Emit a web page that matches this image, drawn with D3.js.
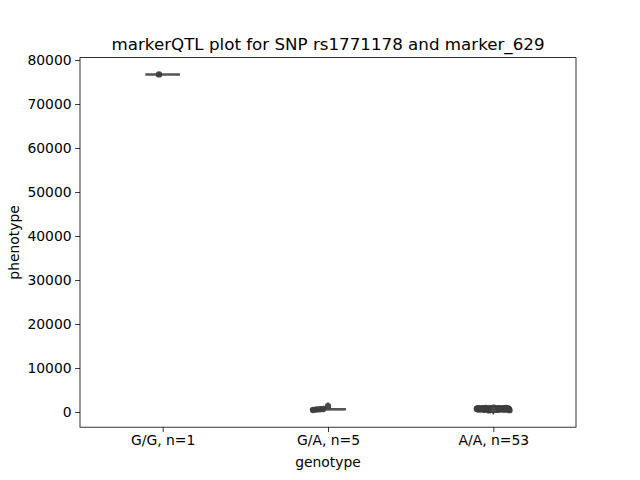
<!DOCTYPE html>
<html><head><meta charset="utf-8">
<script src="https://cdn.jsdelivr.net/npm/d3@7/dist/d3.min.js"></script>
<style>body{margin:0;background:#fff}svg{display:block}text{font-family:"DejaVu Sans",sans-serif}</style>
</head><body><svg id="c" width="640" height="480"></svg>
<script>
const categories = ["G/G, n=1", "G/A, n=5", "A/A, n=53"];
const ggValues = [76727];
const gaValues = [470, 560, 610, 680, 1300];
const aaValues = [363, 420, 480, 510, 530, 550, 560, 575, 590, 600, 605, 615, 620, 630, 640, 645, 650, 655, 660, 665, 670, 675, 680, 685, 690, 695, 700, 705, 710, 715, 720, 725, 730, 735, 740, 745, 750, 760, 770, 780, 790, 800, 810, 820, 830, 840, 850, 860, 870, 880, 900, 920, 950];
const yTicks = [0, 10000, 20000, 30000, 40000, 50000, 60000, 70000, 80000];
const title = "markerQTL plot for SNP rs1771178 and marker_629";
const xLabel = "genotype", yLabel = "phenotype";

const groups = [ggValues, gaValues, aaValues];
const svg = d3.select("#c");
const L = 80, R = 576, T = 57.6, B = 427.2;
const x = d3.scaleLinear().domain([-0.5, 2.5]).range([L, R]);
const y = d3.scaleLinear().domain([-3455, 80545]).range([B, T]);

const g = svg.append("g");
const yAxis = d3.axisLeft(y).tickValues(yTicks).tickSize(4.9).tickPadding(3.5).tickFormat(d3.format("d"));
const ya = svg.append("g").attr("transform", `translate(${L},0)`).call(yAxis);
const xAxis = d3.axisBottom(x).tickValues([0,1,2]).tickSize(4.9).tickPadding(3.5).tickFormat(i => categories[i]);
const xa = svg.append("g").attr("transform", `translate(0,${B})`).call(xAxis);
[ya, xa].forEach(a => {
  a.select(".domain").remove();
  a.selectAll("line").attr("stroke", "#000").attr("stroke-width", 0.8);
  a.selectAll("text").attr("font-size", 13.9).attr("fill", "#000");
});

// deterministic jitter (in category units)
function jitter(i, k, n) {
  if (n === 1) return -0.022;
  if (i === 1) return k === n - 1 ? 0 : -0.09 + 0.02 * k;
  return (((k * 0.618034 + 0.37) % 1) * 2 - 1) * 0.1;
}

const boxW = 0.21;
const boxColor = "#555555";
groups.forEach((vals, i) => {
  const s = vals.slice().sort(d3.ascending);
  const q1 = d3.quantile(s, 0.25), q2 = d3.quantile(s, 0.5), q3 = d3.quantile(s, 0.75);
  const iqr = q3 - q1;
  const lo = d3.min(s.filter(v => v >= q1 - 1.5 * iqr));
  const hi = d3.max(s.filter(v => v <= q3 + 1.5 * iqr));
  const x0 = x(i - boxW / 2), x1 = x(i + boxW / 2);
  g.append("line").attr("x1", x(i)).attr("x2", x(i)).attr("y1", y(lo)).attr("y2", y(q1)).attr("stroke", boxColor).attr("stroke-width", 1.5);
  g.append("line").attr("x1", x(i)).attr("x2", x(i)).attr("y1", y(q3)).attr("y2", y(hi)).attr("stroke", boxColor).attr("stroke-width", 1.5);
  g.append("rect").attr("x", x0).attr("width", x1 - x0).attr("y", y(q3)).attr("height", Math.max(0, y(q1) - y(q3)))
    .attr("fill", "#808080").attr("stroke", boxColor).attr("stroke-width", 1.5);
  g.append("line").attr("x1", x0).attr("x2", x1).attr("y1", y(q2)).attr("y2", y(q2)).attr("stroke", boxColor).attr("stroke-width", 2.5);
  vals.forEach((v, k) => {
    g.append("circle").attr("cx", x(i + jitter(i, k, vals.length))).attr("cy", y(v)).attr("r", 3.2).attr("fill", "#3d3d3d").attr("opacity", 0.95);
  });
  s.filter(v => v < lo || v > hi).forEach(v => {
    const cx = x(i), cy = y(v);
    g.append("path").attr("d", `M${cx},${cy-4.5}L${cx+3},${cy}L${cx},${cy+4.5}L${cx-3},${cy}Z`).attr("fill", "#4a4a4a");
  });
});

svg.append("rect").attr("x", L).attr("y", T).attr("width", R - L).attr("height", B - T).attr("fill", "none").attr("stroke", "#000").attr("stroke-width", 0.8);

svg.append("text").attr("x", (L + R) / 2).attr("y", T - 8).attr("text-anchor", "middle").attr("font-size", 16.7).text(title);
svg.append("text").attr("x", (L + R) / 2).attr("y", 467).attr("text-anchor", "middle").attr("font-size", 13.9).text(xLabel);
svg.append("text").attr("transform", `translate(19,${(T + B) / 2}) rotate(-90)`).attr("text-anchor", "middle").attr("font-size", 13.9).text(yLabel);
</script></body></html>
